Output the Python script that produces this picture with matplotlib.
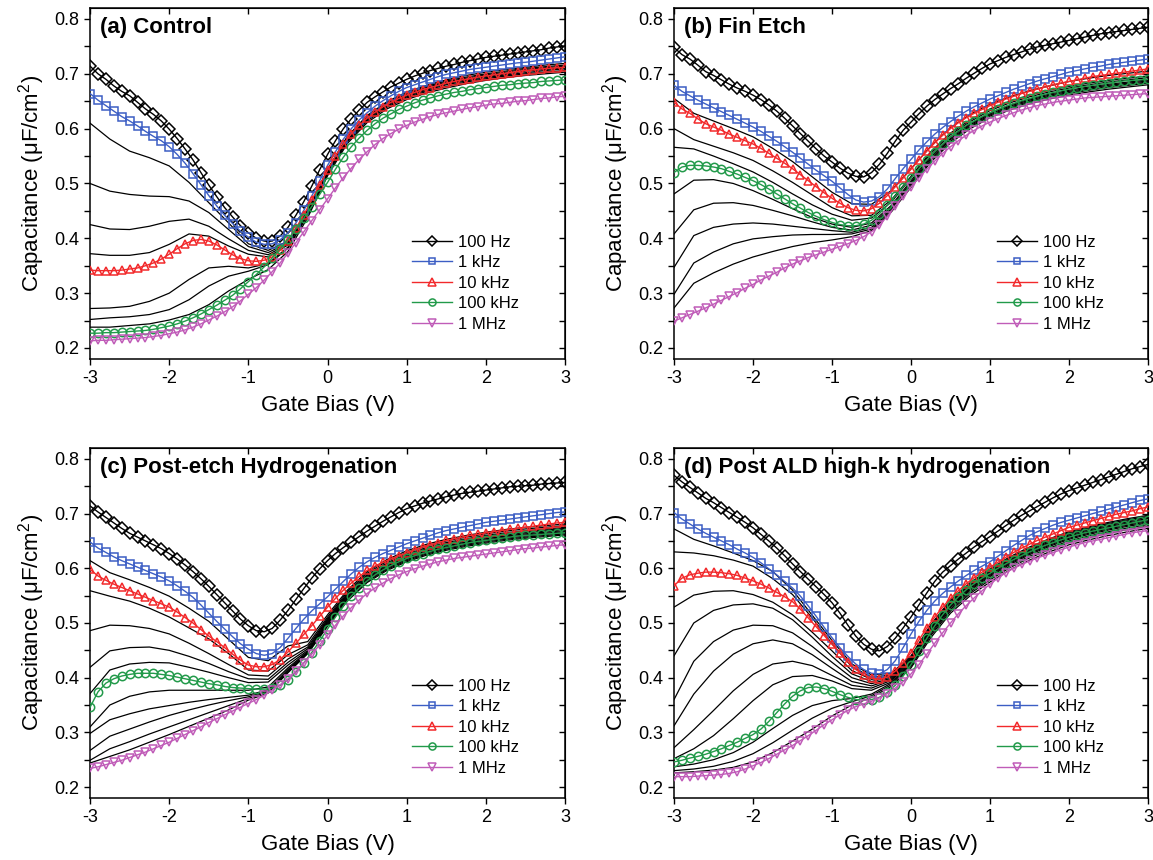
import numpy as np
import matplotlib
matplotlib.use('Agg')
import matplotlib.pyplot as plt
from matplotlib.ticker import MultipleLocator

plt.rcParams['font.family'] = ['Liberation Sans', 'DejaVu Sans']
plt.rcParams['mathtext.fontset'] = 'custom'
plt.rcParams['mathtext.rm'] = 'Liberation Sans'
plt.rcParams['mathtext.default'] = 'rm'

# gate bias grids: marked curves every 0.1 V, black curves every 0.25 V
v_fine = np.linspace(-3, 3, 61)
v_coarse = np.linspace(-3, 3, 25)

labels = ['100 Hz', '1 kHz', '10 kHz', '100 kHz', '1 MHz']
titles = ['(a) Control', '(b) Fin Etch', '(c) Post-etch Hydrogenation',
          '(d) Post ALD high-k hydrogenation']

# ---- (a) Control ----
a_100hz = [0.714, 0.700, 0.690, 0.678, 0.668, 0.660, 0.648, 0.636, 0.626, 0.614,
           0.599, 0.582, 0.563, 0.543, 0.520, 0.497, 0.476, 0.456, 0.439, 0.423,
           0.410, 0.400, 0.395, 0.395, 0.404, 0.420, 0.442, 0.467, 0.495, 0.525,
           0.553, 0.578, 0.600, 0.618, 0.634, 0.648, 0.658, 0.667, 0.676, 0.683,
           0.690, 0.696, 0.701, 0.706, 0.710, 0.714, 0.717, 0.721, 0.724, 0.727,
           0.730, 0.732, 0.734, 0.736, 0.738, 0.740, 0.742, 0.744, 0.747, 0.749, 0.751]
a_1khz = [0.664, 0.652, 0.642, 0.632, 0.622, 0.614, 0.605, 0.595, 0.586, 0.578,
          0.567, 0.553, 0.537, 0.518, 0.498, 0.478, 0.459, 0.442, 0.427, 0.413,
          0.402, 0.393, 0.389, 0.390, 0.397, 0.410, 0.428, 0.451, 0.477, 0.505,
          0.533, 0.558, 0.581, 0.600, 0.616, 0.629, 0.641, 0.651, 0.660, 0.668,
          0.675, 0.680, 0.685, 0.690, 0.695, 0.699, 0.702, 0.705, 0.708, 0.710,
          0.712, 0.714, 0.716, 0.718, 0.720, 0.721, 0.723, 0.725, 0.727, 0.729, 0.731]
a_10khz = [0.342, 0.341, 0.341, 0.341, 0.342, 0.344, 0.346, 0.350, 0.355, 0.362,
           0.371, 0.381, 0.390, 0.396, 0.398, 0.395, 0.388, 0.379, 0.370, 0.363,
           0.359, 0.358, 0.360, 0.366, 0.378, 0.396, 0.418, 0.443, 0.470, 0.497,
           0.524, 0.550, 0.572, 0.591, 0.606, 0.619, 0.630, 0.640, 0.648, 0.655,
           0.661, 0.666, 0.671, 0.675, 0.679, 0.683, 0.686, 0.689, 0.691, 0.694,
           0.696, 0.698, 0.700, 0.702, 0.704, 0.706, 0.707, 0.709, 0.710, 0.711, 0.712]
a_100khz = [0.227, 0.227, 0.228, 0.228, 0.229, 0.230, 0.231, 0.232, 0.234, 0.237,
            0.240, 0.244, 0.249, 0.255, 0.262, 0.270, 0.278, 0.287, 0.296, 0.308,
            0.321, 0.334, 0.348, 0.364, 0.381, 0.398, 0.417, 0.437, 0.458, 0.480,
            0.502, 0.526, 0.548, 0.567, 0.583, 0.597, 0.609, 0.619, 0.627, 0.635,
            0.641, 0.647, 0.652, 0.656, 0.660, 0.663, 0.666, 0.668, 0.671, 0.673,
            0.675, 0.677, 0.679, 0.680, 0.682, 0.683, 0.684, 0.686, 0.687, 0.688, 0.689]
a_1mhz = [0.213, 0.214, 0.214, 0.215, 0.216, 0.217, 0.218, 0.219, 0.221, 0.223,
          0.226, 0.229, 0.233, 0.238, 0.244, 0.251, 0.258, 0.266, 0.275, 0.286,
          0.298, 0.310, 0.324, 0.339, 0.355, 0.373, 0.392, 0.412, 0.432, 0.452,
          0.472, 0.492, 0.511, 0.528, 0.544, 0.558, 0.571, 0.582, 0.591, 0.599,
          0.606, 0.612, 0.617, 0.622, 0.626, 0.629, 0.632, 0.635, 0.638, 0.640,
          0.643, 0.645, 0.646, 0.648, 0.650, 0.651, 0.653, 0.655, 0.656, 0.658, 0.659]
a_black = [
    [0.610, 0.581, 0.559, 0.547, 0.532, 0.502, 0.465, 0.428, 0.390, 0.378, 0.395, 0.452, 0.526,
     0.586, 0.624, 0.649, 0.667, 0.679, 0.689, 0.697, 0.703, 0.708, 0.712, 0.716, 0.719],
    [0.500, 0.486, 0.480, 0.477, 0.476, 0.468, 0.447, 0.416, 0.385, 0.374, 0.392, 0.450, 0.524,
     0.584, 0.622, 0.647, 0.665, 0.677, 0.687, 0.694, 0.700, 0.705, 0.710, 0.713, 0.716],
    [0.425, 0.417, 0.416, 0.422, 0.431, 0.435, 0.422, 0.399, 0.378, 0.370, 0.390, 0.449, 0.523,
     0.583, 0.621, 0.646, 0.663, 0.675, 0.685, 0.692, 0.698, 0.703, 0.708, 0.711, 0.714],
    [0.372, 0.369, 0.369, 0.374, 0.389, 0.408, 0.404, 0.386, 0.371, 0.366, 0.388, 0.447, 0.521,
     0.580, 0.618, 0.643, 0.660, 0.672, 0.682, 0.689, 0.695, 0.700, 0.705, 0.708, 0.711],
    [0.272, 0.273, 0.276, 0.285, 0.300, 0.325, 0.346, 0.349, 0.346, 0.354, 0.384, 0.444, 0.519,
     0.578, 0.616, 0.641, 0.658, 0.670, 0.680, 0.687, 0.693, 0.698, 0.702, 0.706, 0.709],
    [0.252, 0.255, 0.257, 0.261, 0.270, 0.288, 0.313, 0.331, 0.340, 0.352, 0.382, 0.442, 0.517,
     0.576, 0.614, 0.639, 0.656, 0.668, 0.677, 0.685, 0.691, 0.696, 0.700, 0.703, 0.706],
    [0.238, 0.238, 0.241, 0.244, 0.251, 0.261, 0.279, 0.304, 0.325, 0.343, 0.376, 0.438, 0.514,
     0.573, 0.611, 0.636, 0.653, 0.665, 0.674, 0.682, 0.688, 0.693, 0.697, 0.700, 0.703],
]

# ---- (b) Fin Etch ----
b_100hz = [0.748, 0.735, 0.727, 0.716, 0.704, 0.697, 0.689, 0.681, 0.674, 0.668,
           0.661, 0.653, 0.643, 0.632, 0.619, 0.605, 0.591, 0.577, 0.563, 0.550,
           0.539, 0.528, 0.519, 0.513, 0.512, 0.520, 0.535, 0.555, 0.577, 0.597,
           0.612, 0.627, 0.641, 0.653, 0.663, 0.673, 0.682, 0.692, 0.701, 0.710,
           0.718, 0.724, 0.730, 0.735, 0.740, 0.745, 0.749, 0.752, 0.755, 0.758,
           0.761, 0.764, 0.767, 0.770, 0.773, 0.775, 0.777, 0.779, 0.781, 0.783, 0.785]
b_1khz = [0.679, 0.668, 0.660, 0.652, 0.645, 0.638, 0.631, 0.624, 0.617, 0.610,
          0.603, 0.595, 0.586, 0.577, 0.567, 0.557, 0.546, 0.535, 0.524, 0.514,
          0.504, 0.492, 0.480, 0.470, 0.466, 0.468, 0.476, 0.490, 0.509, 0.527,
          0.544, 0.561, 0.576, 0.590, 0.602, 0.613, 0.623, 0.632, 0.640, 0.647,
          0.654, 0.660, 0.666, 0.672, 0.677, 0.682, 0.687, 0.691, 0.695, 0.699,
          0.703, 0.706, 0.709, 0.712, 0.714, 0.717, 0.719, 0.721, 0.723, 0.725, 0.727]
b_10khz = [0.648, 0.636, 0.628, 0.618, 0.609, 0.603, 0.597, 0.590, 0.584, 0.578,
           0.572, 0.564, 0.555, 0.546, 0.537, 0.527, 0.516, 0.505, 0.494, 0.483,
           0.473, 0.464, 0.456, 0.451, 0.450, 0.454, 0.464, 0.478, 0.494, 0.510,
           0.526, 0.543, 0.559, 0.574, 0.588, 0.600, 0.611, 0.620, 0.628, 0.635,
           0.642, 0.648, 0.654, 0.659, 0.664, 0.668, 0.672, 0.676, 0.680, 0.683,
           0.686, 0.689, 0.692, 0.695, 0.697, 0.699, 0.701, 0.703, 0.705, 0.707, 0.709]
b_100khz = [0.520, 0.530, 0.533, 0.533, 0.532, 0.530, 0.527, 0.522, 0.517, 0.511,
            0.505, 0.498, 0.490, 0.481, 0.472, 0.463, 0.455, 0.447, 0.440, 0.434,
            0.429, 0.425, 0.423, 0.423, 0.426, 0.433, 0.445, 0.460, 0.477, 0.494,
            0.510, 0.527, 0.543, 0.558, 0.572, 0.585, 0.596, 0.606, 0.614, 0.622,
            0.629, 0.635, 0.641, 0.646, 0.651, 0.655, 0.659, 0.663, 0.666, 0.669,
            0.672, 0.675, 0.677, 0.679, 0.681, 0.683, 0.685, 0.687, 0.688, 0.689, 0.690]
b_1mhz = [0.249, 0.255, 0.261, 0.267, 0.273, 0.280, 0.287, 0.294, 0.301, 0.309,
          0.316, 0.324, 0.331, 0.338, 0.346, 0.353, 0.359, 0.365, 0.370, 0.375,
          0.380, 0.385, 0.390, 0.396, 0.403, 0.412, 0.424, 0.440, 0.459, 0.477,
          0.494, 0.510, 0.526, 0.541, 0.555, 0.567, 0.578, 0.588, 0.597, 0.605,
          0.612, 0.618, 0.624, 0.629, 0.634, 0.638, 0.642, 0.645, 0.648, 0.650,
          0.652, 0.654, 0.656, 0.657, 0.658, 0.659, 0.660, 0.661, 0.662, 0.663, 0.664]
b_black = [
    [0.655, 0.628, 0.614, 0.600, 0.585, 0.564, 0.540, 0.512, 0.484, 0.463, 0.462, 0.487, 0.527,
     0.568, 0.602, 0.626, 0.645, 0.658, 0.669, 0.678, 0.686, 0.692, 0.697, 0.701, 0.705],
    [0.600, 0.580, 0.568, 0.556, 0.542, 0.523, 0.502, 0.479, 0.456, 0.441, 0.442, 0.470, 0.513,
     0.558, 0.592, 0.616, 0.636, 0.650, 0.661, 0.670, 0.677, 0.683, 0.688, 0.692, 0.696],
    [0.566, 0.563, 0.550, 0.536, 0.521, 0.502, 0.481, 0.461, 0.444, 0.433, 0.437, 0.466, 0.510,
     0.555, 0.589, 0.613, 0.633, 0.647, 0.658, 0.667, 0.674, 0.680, 0.685, 0.689, 0.693],
    [0.481, 0.506, 0.507, 0.500, 0.487, 0.471, 0.454, 0.438, 0.426, 0.420, 0.428, 0.460, 0.505,
     0.551, 0.585, 0.609, 0.629, 0.643, 0.654, 0.663, 0.670, 0.676, 0.681, 0.685, 0.689],
    [0.408, 0.452, 0.464, 0.465, 0.460, 0.451, 0.441, 0.430, 0.420, 0.415, 0.424, 0.457, 0.502,
     0.548, 0.582, 0.607, 0.627, 0.641, 0.652, 0.661, 0.668, 0.674, 0.679, 0.683, 0.687],
    [0.347, 0.405, 0.420, 0.426, 0.428, 0.426, 0.422, 0.418, 0.414, 0.411, 0.420, 0.454, 0.499,
     0.545, 0.580, 0.605, 0.625, 0.639, 0.650, 0.659, 0.666, 0.672, 0.677, 0.681, 0.685],
    [0.298, 0.355, 0.375, 0.390, 0.399, 0.403, 0.406, 0.407, 0.407, 0.408, 0.417, 0.451, 0.496,
     0.542, 0.577, 0.603, 0.623, 0.637, 0.648, 0.657, 0.664, 0.670, 0.675, 0.679, 0.683],
    [0.273, 0.318, 0.337, 0.353, 0.366, 0.376, 0.385, 0.392, 0.397, 0.403, 0.414, 0.448, 0.493,
     0.539, 0.574, 0.600, 0.620, 0.634, 0.645, 0.654, 0.661, 0.667, 0.672, 0.676, 0.680],
]

# ---- (c) Post-etch hydrogenation ----
c_100hz = [0.714, 0.703, 0.693, 0.683, 0.673, 0.664, 0.657, 0.650, 0.643, 0.636,
           0.627, 0.617, 0.606, 0.594, 0.581, 0.567, 0.552, 0.537, 0.522, 0.507,
           0.495, 0.486, 0.484, 0.490, 0.505, 0.523, 0.543, 0.563, 0.582, 0.599,
           0.614, 0.627, 0.638, 0.648, 0.658, 0.668, 0.677, 0.686, 0.694, 0.702,
           0.709, 0.714, 0.719, 0.723, 0.727, 0.731, 0.734, 0.737, 0.739, 0.741,
           0.743, 0.745, 0.747, 0.749, 0.750, 0.751, 0.752, 0.754, 0.755, 0.756, 0.757]
c_1khz = [0.648, 0.637, 0.629, 0.621, 0.614, 0.608, 0.602, 0.596, 0.590, 0.584,
          0.577, 0.568, 0.558, 0.547, 0.533, 0.518, 0.503, 0.489, 0.475, 0.462,
          0.452, 0.444, 0.441, 0.444, 0.455, 0.472, 0.490, 0.507, 0.522, 0.535,
          0.548, 0.562, 0.576, 0.590, 0.602, 0.612, 0.620, 0.627, 0.633, 0.639,
          0.645, 0.650, 0.655, 0.660, 0.665, 0.669, 0.672, 0.675, 0.678, 0.681,
          0.684, 0.686, 0.688, 0.690, 0.692, 0.694, 0.696, 0.698, 0.700, 0.702, 0.703]
c_10khz = [0.598, 0.586, 0.578, 0.571, 0.565, 0.559, 0.553, 0.547, 0.541, 0.535,
           0.529, 0.520, 0.510, 0.500, 0.488, 0.476, 0.466, 0.455, 0.443, 0.432,
           0.423, 0.420, 0.420, 0.424, 0.433, 0.447, 0.463, 0.479, 0.495, 0.512,
           0.529, 0.545, 0.560, 0.573, 0.585, 0.596, 0.604, 0.611, 0.617, 0.623,
           0.628, 0.634, 0.639, 0.643, 0.647, 0.651, 0.654, 0.657, 0.660, 0.662,
           0.665, 0.667, 0.669, 0.671, 0.673, 0.675, 0.677, 0.679, 0.681, 0.683, 0.684]
c_100khz = [0.346, 0.374, 0.390, 0.398, 0.403, 0.406, 0.408, 0.408, 0.408, 0.406,
            0.404, 0.401, 0.398, 0.395, 0.392, 0.389, 0.387, 0.384, 0.382, 0.381,
            0.380, 0.379, 0.379, 0.381, 0.386, 0.396, 0.410, 0.427, 0.446, 0.467,
            0.489, 0.511, 0.531, 0.549, 0.564, 0.577, 0.588, 0.597, 0.605, 0.612,
            0.618, 0.623, 0.627, 0.631, 0.635, 0.638, 0.641, 0.644, 0.647, 0.649,
            0.651, 0.653, 0.655, 0.657, 0.659, 0.660, 0.661, 0.662, 0.663, 0.664, 0.665]
c_1mhz = [0.234, 0.237, 0.241, 0.245, 0.249, 0.254, 0.259, 0.264, 0.270, 0.276,
          0.282, 0.289, 0.296, 0.303, 0.310, 0.318, 0.325, 0.332, 0.339, 0.346,
          0.353, 0.360, 0.368, 0.377, 0.387, 0.398, 0.412, 0.427, 0.443, 0.460,
          0.478, 0.496, 0.513, 0.528, 0.542, 0.554, 0.564, 0.573, 0.581, 0.588,
          0.594, 0.599, 0.604, 0.608, 0.612, 0.615, 0.618, 0.620, 0.622, 0.624,
          0.626, 0.628, 0.630, 0.632, 0.634, 0.636, 0.637, 0.639, 0.640, 0.642, 0.643]
c_black = [
    [0.614, 0.592, 0.579, 0.565, 0.549, 0.527, 0.503, 0.470, 0.437, 0.431, 0.458, 0.466, 0.515,
     0.560, 0.594, 0.616, 0.632, 0.644, 0.653, 0.660, 0.666, 0.671, 0.675, 0.678, 0.681],
    [0.559, 0.549, 0.540, 0.527, 0.511, 0.491, 0.471, 0.444, 0.414, 0.412, 0.442, 0.460, 0.511,
     0.557, 0.591, 0.613, 0.629, 0.641, 0.650, 0.657, 0.663, 0.668, 0.672, 0.675, 0.678],
    [0.486, 0.496, 0.495, 0.490, 0.480, 0.463, 0.444, 0.424, 0.405, 0.403, 0.434, 0.456, 0.508,
     0.554, 0.588, 0.610, 0.626, 0.638, 0.647, 0.654, 0.660, 0.665, 0.669, 0.672, 0.675],
    [0.419, 0.449, 0.455, 0.456, 0.450, 0.439, 0.426, 0.411, 0.398, 0.397, 0.428, 0.453, 0.506,
     0.552, 0.586, 0.608, 0.624, 0.636, 0.645, 0.652, 0.658, 0.663, 0.667, 0.670, 0.673],
    [0.371, 0.414, 0.425, 0.428, 0.427, 0.419, 0.410, 0.400, 0.391, 0.392, 0.423, 0.450, 0.504,
     0.550, 0.584, 0.606, 0.622, 0.634, 0.643, 0.650, 0.656, 0.661, 0.665, 0.668, 0.671],
    [0.310, 0.350, 0.366, 0.374, 0.377, 0.377, 0.377, 0.377, 0.377, 0.383, 0.418, 0.448, 0.502,
     0.548, 0.582, 0.604, 0.620, 0.632, 0.641, 0.648, 0.654, 0.659, 0.663, 0.666, 0.669],
    [0.298, 0.323, 0.334, 0.343, 0.349, 0.355, 0.360, 0.364, 0.368, 0.378, 0.415, 0.447, 0.500,
     0.546, 0.580, 0.602, 0.618, 0.630, 0.639, 0.646, 0.652, 0.657, 0.661, 0.664, 0.667],
    [0.267, 0.293, 0.306, 0.319, 0.331, 0.341, 0.350, 0.358, 0.365, 0.376, 0.413, 0.446, 0.498,
     0.544, 0.578, 0.600, 0.616, 0.628, 0.637, 0.644, 0.650, 0.655, 0.659, 0.662, 0.665],
    [0.249, 0.270, 0.283, 0.297, 0.310, 0.323, 0.336, 0.349, 0.362, 0.374, 0.411, 0.445, 0.496,
     0.542, 0.576, 0.598, 0.614, 0.626, 0.635, 0.642, 0.648, 0.653, 0.657, 0.660, 0.663],
    [0.244, 0.256, 0.268, 0.282, 0.296, 0.311, 0.326, 0.341, 0.359, 0.372, 0.409, 0.444, 0.494,
     0.540, 0.574, 0.596, 0.612, 0.624, 0.633, 0.640, 0.646, 0.651, 0.655, 0.658, 0.661],
]

# ---- (d) Post ALD high-k hydrogenation ----
d_100hz = [0.770, 0.758, 0.748, 0.738, 0.728, 0.720, 0.711, 0.702, 0.693, 0.684,
           0.674, 0.662, 0.650, 0.637, 0.623, 0.608, 0.594, 0.580, 0.566, 0.552,
           0.537, 0.518, 0.496, 0.476, 0.461, 0.452, 0.449, 0.457, 0.472, 0.491,
           0.511, 0.533, 0.555, 0.576, 0.593, 0.605, 0.617, 0.628, 0.639, 0.649,
           0.658, 0.668, 0.678, 0.688, 0.697, 0.705, 0.713, 0.721, 0.729, 0.736,
           0.742, 0.747, 0.752, 0.757, 0.762, 0.767, 0.772, 0.777, 0.782, 0.786, 0.790]
d_1khz = [0.702, 0.690, 0.681, 0.672, 0.664, 0.657, 0.650, 0.643, 0.635, 0.628,
          0.620, 0.610, 0.599, 0.588, 0.576, 0.564, 0.549, 0.531, 0.512, 0.492,
          0.473, 0.455, 0.439, 0.425, 0.415, 0.408, 0.407, 0.415, 0.431, 0.455,
          0.480, 0.503, 0.523, 0.540, 0.554, 0.566, 0.577, 0.587, 0.596, 0.604,
          0.612, 0.622, 0.632, 0.642, 0.651, 0.660, 0.667, 0.673, 0.679, 0.684,
          0.688, 0.692, 0.696, 0.700, 0.704, 0.708, 0.712, 0.716, 0.720, 0.724, 0.727]
d_10khz = [0.568, 0.582, 0.588, 0.591, 0.593, 0.593, 0.592, 0.590, 0.587, 0.582,
           0.577, 0.571, 0.564, 0.556, 0.548, 0.539, 0.525, 0.509, 0.493, 0.477,
           0.461, 0.445, 0.429, 0.415, 0.405, 0.399, 0.397, 0.401, 0.412, 0.427,
           0.446, 0.469, 0.491, 0.511, 0.529, 0.545, 0.559, 0.572, 0.583, 0.593,
           0.602, 0.611, 0.620, 0.629, 0.637, 0.644, 0.651, 0.657, 0.663, 0.669,
           0.675, 0.679, 0.683, 0.687, 0.691, 0.695, 0.699, 0.702, 0.705, 0.709, 0.712]
d_100khz = [0.246, 0.249, 0.253, 0.256, 0.260, 0.265, 0.270, 0.276, 0.282, 0.289,
            0.296, 0.306, 0.320, 0.336, 0.352, 0.366, 0.376, 0.382, 0.383, 0.380,
            0.375, 0.369, 0.364, 0.360, 0.359, 0.360, 0.364, 0.373, 0.386, 0.403,
            0.424, 0.448, 0.472, 0.495, 0.515, 0.533, 0.548, 0.561, 0.572, 0.582,
            0.591, 0.600, 0.608, 0.616, 0.623, 0.630, 0.636, 0.642, 0.647, 0.652,
            0.657, 0.661, 0.665, 0.668, 0.671, 0.674, 0.677, 0.680, 0.683, 0.686, 0.689]
d_1mhz = [0.219, 0.219, 0.219, 0.220, 0.221, 0.222, 0.223, 0.225, 0.228, 0.233,
          0.239, 0.245, 0.252, 0.260, 0.268, 0.276, 0.285, 0.294, 0.304, 0.314,
          0.323, 0.332, 0.340, 0.347, 0.352, 0.357, 0.363, 0.371, 0.381, 0.393,
          0.407, 0.424, 0.443, 0.463, 0.482, 0.500, 0.517, 0.532, 0.546, 0.559,
          0.571, 0.582, 0.592, 0.600, 0.607, 0.613, 0.619, 0.624, 0.629, 0.634,
          0.639, 0.643, 0.647, 0.650, 0.653, 0.656, 0.659, 0.662, 0.665, 0.667, 0.669]
d_black = [
    [0.672, 0.653, 0.641, 0.628, 0.614, 0.594, 0.560, 0.514, 0.468, 0.425, 0.405, 0.408, 0.440,
     0.497, 0.542, 0.574, 0.599, 0.621, 0.639, 0.654, 0.667, 0.676, 0.684, 0.691, 0.697],
    [0.630, 0.628, 0.623, 0.615, 0.604, 0.581, 0.552, 0.509, 0.462, 0.420, 0.401, 0.405, 0.438,
     0.495, 0.540, 0.572, 0.597, 0.619, 0.637, 0.652, 0.665, 0.674, 0.682, 0.689, 0.695],
    [0.529, 0.551, 0.558, 0.559, 0.552, 0.538, 0.515, 0.483, 0.449, 0.413, 0.397, 0.403, 0.436,
     0.493, 0.538, 0.570, 0.595, 0.617, 0.635, 0.650, 0.663, 0.672, 0.680, 0.687, 0.693],
    [0.440, 0.500, 0.523, 0.533, 0.535, 0.527, 0.506, 0.474, 0.439, 0.407, 0.393, 0.401, 0.434,
     0.491, 0.536, 0.568, 0.593, 0.615, 0.633, 0.648, 0.661, 0.670, 0.678, 0.685, 0.691],
    [0.360, 0.430, 0.466, 0.487, 0.496, 0.495, 0.482, 0.457, 0.428, 0.400, 0.389, 0.399, 0.432,
     0.489, 0.534, 0.566, 0.591, 0.613, 0.631, 0.646, 0.659, 0.668, 0.676, 0.683, 0.689],
    [0.312, 0.370, 0.412, 0.443, 0.462, 0.469, 0.462, 0.442, 0.417, 0.393, 0.385, 0.397, 0.430,
     0.487, 0.532, 0.564, 0.589, 0.611, 0.629, 0.644, 0.657, 0.666, 0.674, 0.681, 0.687],
    [0.272, 0.305, 0.340, 0.376, 0.406, 0.425, 0.430, 0.422, 0.404, 0.386, 0.381, 0.395, 0.428,
     0.485, 0.530, 0.562, 0.587, 0.609, 0.627, 0.642, 0.655, 0.664, 0.672, 0.679, 0.685],
    [0.252, 0.270, 0.294, 0.325, 0.358, 0.387, 0.402, 0.404, 0.394, 0.380, 0.377, 0.392, 0.426,
     0.483, 0.528, 0.560, 0.585, 0.607, 0.625, 0.640, 0.653, 0.662, 0.670, 0.677, 0.683],
    [0.237, 0.242, 0.250, 0.263, 0.282, 0.307, 0.331, 0.349, 0.358, 0.362, 0.370, 0.390, 0.424,
     0.480, 0.525, 0.557, 0.582, 0.604, 0.622, 0.637, 0.650, 0.659, 0.667, 0.674, 0.680],
    [0.230, 0.233, 0.238, 0.247, 0.261, 0.281, 0.304, 0.326, 0.344, 0.356, 0.367, 0.387, 0.421,
     0.477, 0.522, 0.554, 0.579, 0.601, 0.619, 0.634, 0.647, 0.656, 0.664, 0.671, 0.677],
    [0.226, 0.228, 0.231, 0.236, 0.246, 0.263, 0.284, 0.306, 0.330, 0.350, 0.364, 0.384, 0.418,
     0.473, 0.518, 0.550, 0.575, 0.597, 0.615, 0.630, 0.643, 0.652, 0.660, 0.667, 0.673],
]

colors = ['black', '#3c5ec4', '#f2292b', '#229a4a', '#c05cb8']
markers = ['D', 's', '^', 'o', 'v']
msizes = [6.0, 5.6, 6.2, 6.0, 6.2]

panels = [
    (titles[0], [a_100hz, a_1khz, a_10khz, a_100khz, a_1mhz], a_black),
    (titles[1], [b_100hz, b_1khz, b_10khz, b_100khz, b_1mhz], b_black),
    (titles[2], [c_100hz, c_1khz, c_10khz, c_100khz, c_1mhz], c_black),
    (titles[3], [d_100hz, d_1khz, d_10khz, d_100khz, d_1mhz], d_black),
]
# axes rectangles in figure fraction
rects = [[0.0781, 0.5826, 0.4120, 0.4081],
         [0.5846, 0.5826, 0.4111, 0.4081],
         [0.0781, 0.0721, 0.4120, 0.4070],
         [0.5846, 0.0721, 0.4111, 0.4070]]
leg_anchor = [(0.678, 0.354), (0.681, 0.354), (0.678, 0.341), (0.681, 0.341)]

fig = plt.figure(figsize=(11.53, 8.6), dpi=100)

for k in range(4):
    title, curves, blacks = panels[k]
    ax = fig.add_axes(rects[k])
    for bl in blacks:
        ax.plot(v_coarse, bl, color='black', lw=0.9, zorder=2)
    for ii in range(5):
        ax.plot(v_fine, curves[ii], color=colors[ii], lw=1.0, marker=markers[ii],
                ms=msizes[ii], mfc='none', mec=colors[ii], mew=1.1,
                label=labels[ii], zorder=3 + ii)
    ax.set_xlim(-3, 3)
    ax.set_ylim(0.18, 0.82)
    ax.set_xticks(range(-3, 4))
    ax.set_xticklabels(['-3', '-2', '-1', '0', '1', '2', '3'])
    ax.set_yticks([0.2, 0.3, 0.4, 0.5, 0.6, 0.7, 0.8])
    ax.yaxis.set_minor_locator(MultipleLocator(0.05))
    ax.tick_params(which='both', direction='out', length=4.5, width=1.0, labelsize=13)
    for sp in ax.spines.values():
        sp.set_linewidth(1.1)
    # inward mirror ticks on top and right
    top = ax.secondary_xaxis('top')
    top.set_xticks(range(-3, 4))
    top.tick_params(direction='in', length=4.5, width=1.0, labeltop=False)
    right = ax.secondary_yaxis('right')
    right.set_yticks([0.2, 0.3, 0.4, 0.5, 0.6, 0.7, 0.8])
    right.yaxis.set_minor_locator(MultipleLocator(0.05))
    right.tick_params(which='both', direction='in', length=4.5, width=1.0, labelright=False)

    ax.set_xlabel('Gate Bias (V)', fontsize=16, labelpad=6)
    ax.set_ylabel('Capacitance (μF/cm$^2$)', fontsize=16, labelpad=5)
    ax.text(0.02, 0.945, title, transform=ax.transAxes, fontsize=16,
            fontweight='bold', va='center', ha='left')
    ax.legend(loc='upper left', bbox_to_anchor=leg_anchor[k], frameon=False, fontsize=12,
              handlelength=2.4, handletextpad=0.35, labelspacing=0.33,
              borderpad=0, borderaxespad=0, markerscale=0.85)

fig.savefig('out.png', dpi=100)
